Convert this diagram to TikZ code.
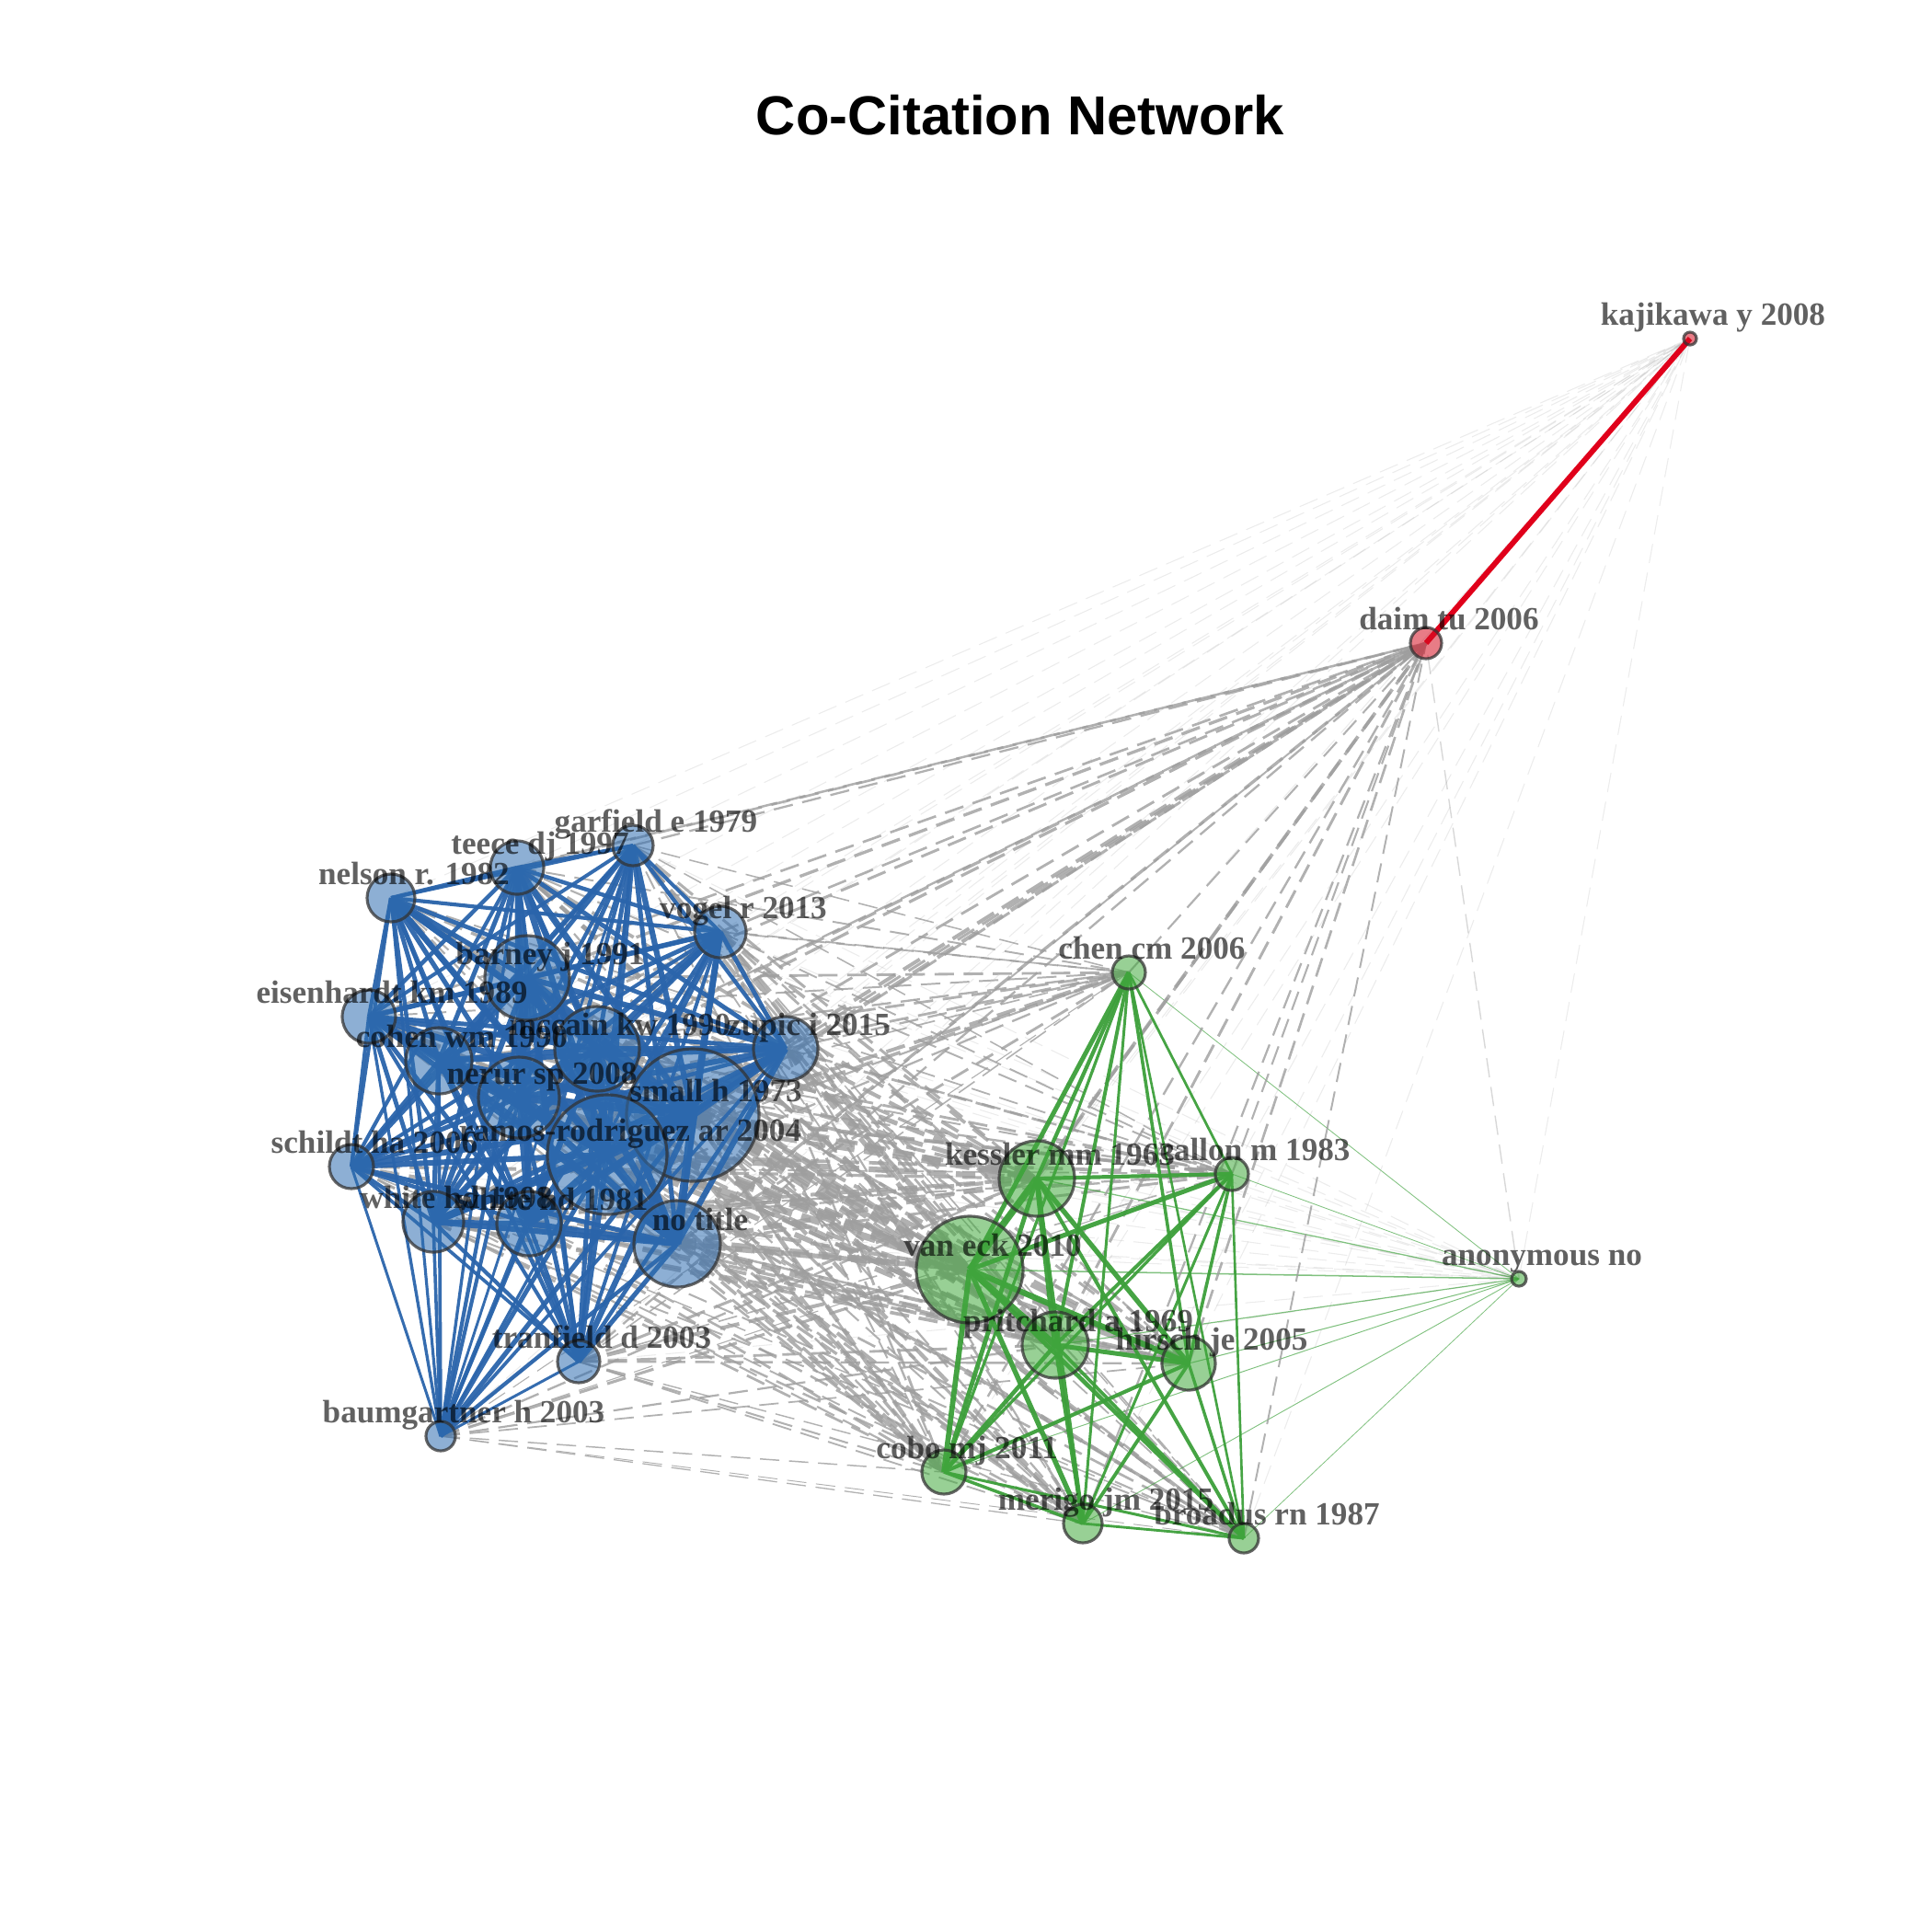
\documentclass[tikz,border=0pt]{standalone}
\usepackage{fontspec}
\setmainfont{Liberation Serif}
\newfontfamily\titlefont{Liberation Sans}
\pgfdeclarelayer{edges}
\pgfsetlayers{edges,main}
\definecolor{clblue}{HTML}{2F6DB0}
\definecolor{clgreen}{HTML}{43A93E}
\definecolor{clred}{HTML}{D51023}
\definecolor{edgeblue}{HTML}{2A64AB}
\definecolor{edgegreen}{HTML}{3C9F3A}
\definecolor{edgered}{HTML}{E0001B}
\definecolor{edgegray}{HTML}{9E9E9E}
\tikzset{
  vtx/.style={circle, inner sep=0pt, outer sep=0pt, draw=black!80, draw opacity=0.75, line width=0.9pt, fill opacity=0.55},
  bvtx/.style={vtx, fill=clblue},
  gvtx/.style={vtx, fill=clgreen},
  rvtx/.style={vtx, fill=clred},
  lbl/.style={anchor=base, inner sep=0pt, font=\fontsize{10}{12}\selectfont\bfseries, text=black, text opacity=0.62},
  bluelink/.style={draw=edgeblue, draw opacity=0.95},
  greenlink/.style={draw=edgegreen, draw opacity=0.95},
  graylink/.style={draw=edgegray, draw opacity=0.8, dash pattern=on 6pt off 3pt},
  faintlink/.style={draw=edgegray, draw opacity=0.2, line width=0.3pt, dash pattern=on 6pt off 3pt}
}
\def\bluelist{garf/.22,teece/.29,nelson/.26,vogel/.28,barney/.46,eisen/.29,mccain/.46,zupic/.35,cohen/.36,nerur/.44,small/.72,ramos/.65,schildt/.24,whitea/.33,whiteb/.35,notitle/.47,tranf/.23,baum/.16}
\def\greenlist{chen/.18,kessler/.41,callon/.18,vaneck/.58,pritch/.36,hirsch/.29,cobo/.24,merigo/.21,broad/.16}
\begin{document}
\begin{tikzpicture}
    \useasboundingbox (0,0) rectangle (21,-21);

    \node[font=\titlefont\fontsize{17}{20}\selectfont\bfseries] (title) at (11.09,-1.25) {Co-Citation Network};

    \foreach \n/\x/\y/\r in {garf/6.88/-9.19/.22, teece/5.62/-9.43/.29, nelson/4.25/-9.76/.26,
        vogel/7.83/-10.13/.28, barney/5.73/-10.63/.46, eisen/4.01/-11.05/.29, mccain/6.49/-11.40/.46,
        zupic/8.54/-11.40/.35, cohen/4.77/-11.53/.36, nerur/5.64/-11.93/.44, small/7.53/-12.12/.72,
        ramos/6.60/-12.55/.65, schildt/3.82/-12.68/.24, whitea/4.71/-13.28/.33, whiteb/5.75/-13.30/.35,
        notitle/7.36/-13.52/.47, tranf/6.29/-14.80/.23, baum/4.79/-15.61/.16}
    {
        \pgfmathsetmacro\d{2*\r}
        \node[bvtx, minimum size=\d cm] (\n) at (\x,\y) {};
    }
    \foreach \n/\x/\y/\r in {chen/12.27/-10.57/.18, kessler/11.27/-12.81/.41, callon/13.39/-12.76/.18,
        vaneck/10.54/-13.80/.58, pritch/11.47/-14.62/.36, hirsch/12.92/-14.82/.29,
        cobo/10.26/-16.00/.24, merigo/11.77/-16.56/.21, broad/13.52/-16.72/.16, anon/16.51/-13.90/.08}
    {
        \pgfmathsetmacro\d{2*\r}
        \node[gvtx, minimum size=\d cm] (\n) at (\x,\y) {};
    }
    \node[rvtx, minimum size=0.34cm] (daim) at (15.50,-6.99) {};
    \node[rvtx, minimum size=0.14cm] (kaji) at (18.37,-3.68) {};

    \begin{pgfonlayer}{edges}
        \foreach \a/\ra in \bluelist {
            \draw[faintlink] (\a.center) -- (kaji.center);
            \draw[faintlink] (\a.center) -- (anon.center);
            \pgfmathsetmacro\w{3.4*sqrt(\ra*0.17)}
            \draw[graylink, line width=\w pt] (\a.center) -- (daim.center);
            \foreach \b/\rb in \greenlist {
                \pgfmathsetmacro\w{4.2*sqrt(\ra*\rb)-0.4}
                \draw[graylink, line width=\w pt] (\a.center) -- (\b.center);
            }
        }
        \foreach \a/\ra in \greenlist {
            \draw[faintlink] (\a.center) -- (kaji.center);
            \pgfmathsetmacro\w{3.4*sqrt(\ra*0.17)}
            \draw[graylink, line width=\w pt] (\a.center) -- (daim.center);
            \pgfmathsetmacro\w{2*sqrt(\ra*0.08)}
            \draw[greenlink, draw opacity=0.65, line width=\w pt] (\a.center) -- (anon.center);
        }
        \draw[faintlink] (anon.center) -- (kaji.center);
        \draw[graylink, draw opacity=0.4, line width=0.4pt] (anon.center) -- (daim.center);

        \foreach \a/\ra [count=\i] in \bluelist {
            \foreach \b/\rb [count=\j] in \bluelist {
                \ifnum\j>\i
                    \pgfmathsetmacro\w{4.4*sqrt(\ra*\rb)}
                    \draw[bluelink, line width=\w pt] (\a.center) -- (\b.center);
                \fi
            }
        }
        \foreach \a/\ra [count=\i] in \greenlist {
            \foreach \b/\rb [count=\j] in \greenlist {
                \ifnum\j>\i
                    \pgfmathsetmacro\w{4.4*sqrt(\ra*\rb)}
                    \draw[greenlink, line width=\w pt] (\a.center) -- (\b.center);
                \fi
            }
        }
        \draw[draw=edgered, line width=1.7pt] (daim.center) -- (kaji.center);
    \end{pgfonlayer}

    \foreach \n/\t in {garf/garfield e 1979, teece/teece dj 1997, nelson/nelson r. 1982,
        vogel/vogel r 2013, barney/barney j 1991, eisen/eisenhardt km 1989, mccain/mccain kw 1990,
        zupic/zupic i 2015, cohen/cohen wm 1990, nerur/nerur sp 2008, small/small h 1973,
        ramos/ramos-rodriguez ar 2004, schildt/schildt ha 2006, whitea/white hd 1998,
        whiteb/white hd 1981, notitle/no title, tranf/tranfield d 2003, baum/baumgartner h 2003,
        chen/chen cm 2006, kessler/kessler mm 1963, callon/callon m 1983, vaneck/van eck 2010,
        pritch/pritchard a 1969, hirsch/hirsch je 2005, cobo/cobo mj 2011, merigo/merigo jm 2015,
        broad/broadus rn 1987, anon/anonymous no, daim/daim tu 2006, kaji/kajikawa y 2008}
    {
        \node[lbl] (\n-l) at ([shift={(0.25,0.15)}]\n.center) {\t};
    }
\end{tikzpicture}
\end{document}
